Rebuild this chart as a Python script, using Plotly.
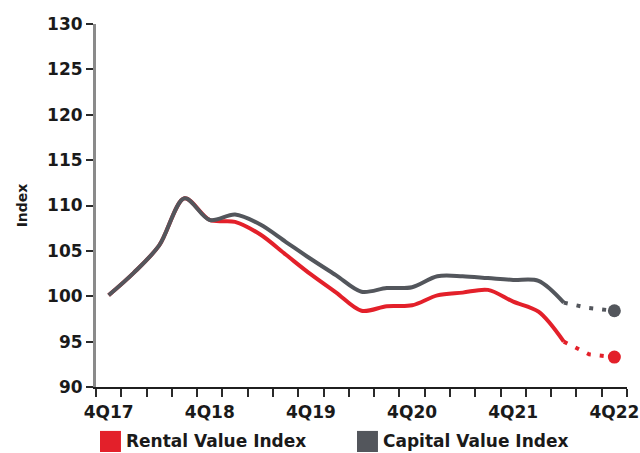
import plotly.graph_objects as go

# Quarterly categories, 4Q17 .. 4Q22
quarters = ["4Q17", "1Q18", "2Q18", "3Q18", "4Q18", "1Q19", "2Q19", "3Q19", "4Q19",
            "1Q20", "2Q20", "3Q20", "4Q20", "1Q21", "2Q21", "3Q21", "4Q21",
            "1Q22", "2Q22", "3Q22", "4Q22"]
tick_labels = ["4Q17", "4Q18", "4Q19", "4Q20", "4Q21", "4Q22"]

# Actual index values (4Q17 .. 2Q22)
rental_actual = [100.1, 102.6, 105.6, 110.8, 108.4, 108.2, 106.8, 104.6, 102.4,
                 100.4, 98.4, 98.9, 99.0, 100.1, 100.4, 100.7, 99.4, 98.3, 95.0]
capital_actual = [100.1, 102.6, 105.6, 110.8, 108.4, 109.0, 107.9, 106.0, 104.1,
                  102.3, 100.5, 100.9, 101.0, 102.2, 102.2, 102.0, 101.8, 101.7, 99.3]

# Forecast values (2Q22 .. 4Q22)
rental_forecast = [95.0, 93.6, 93.3]
capital_forecast = [99.3, 98.7, 98.4]

RED = "#E3202A"
GREY = "#53565C"
FONT = "DejaVu Sans"
TEXT = "#1a1a1a"

n_act = len(rental_actual)
x_act = list(range(n_act))
x_fc = list(range(n_act - 1, n_act - 1 + len(rental_forecast)))
x_end = [x_fc[-1]]

fig = go.Figure()

for actual, forecast, color in [(rental_actual, rental_forecast, RED),
                                (capital_actual, capital_forecast, GREY)]:
    fig.add_trace(go.Scatter(
        x=x_act, y=actual, mode="lines",
        line=dict(color=color, width=4, shape="spline", smoothing=0.9),
        showlegend=False, hoverinfo="skip"))
    fig.add_trace(go.Scatter(
        x=x_fc, y=forecast, mode="lines",
        line=dict(color=color, width=4, dash="4px,9px"),
        showlegend=False, hoverinfo="skip"))
    fig.add_trace(go.Scatter(
        x=x_end, y=[forecast[-1]], mode="markers",
        marker=dict(color=color, size=13),
        showlegend=False, hoverinfo="skip"))

tick_pos = [quarters.index(t) for t in tick_labels]

fig.update_xaxes(
    range=[-0.5, len(quarters) - 0.5],
    automargin=False,
    tickmode="array", tickvals=tick_pos, ticktext=tick_labels,
    ticks="outside", ticklen=9, tickcolor="rgba(0,0,0,0)",
    minor=dict(tickmode="array",
               tickvals=[i - 0.5 for i in range(len(quarters) + 1)],
               ticks="outside", ticklen=8, tickwidth=2, tickcolor="#2a2a2a"),
    showline=True, linecolor="#1f1f1f", linewidth=2,
    showgrid=False, zeroline=False,
    tickfont=dict(family=FONT, size=17, color=TEXT, weight="bold"),
)
fig.update_yaxes(
    range=[90, 130], tickmode="linear", tick0=90, dtick=5,
    automargin=False,
    ticks="outside", ticklen=7, tickwidth=2, tickcolor="#2a2a2a",
    showline=True, linecolor="#8a8a8a", linewidth=3,
    showgrid=False, zeroline=False,
    tickfont=dict(family=FONT, size=17, color=TEXT, weight="bold"),
    title=dict(text="Index", standoff=17,
               font=dict(family=FONT, size=14, color=TEXT, weight="bold")),
)

# Legend drawn as coloured squares with labels below the axis
legend_items = [("Rental Value Index", RED, 0.0075), ("Capital Value Index", GREY, 0.4915)]
for label, color, x0 in legend_items:
    fig.add_shape(type="rect", xref="paper", yref="paper",
                  x0=x0, x1=x0 + 0.0395, y0=-0.179, y1=-0.121,
                  fillcolor=color, line=dict(width=0))
    fig.add_annotation(xref="paper", yref="paper", x=x0 + 0.045, y=-0.150,
                       xanchor="left", yanchor="middle", showarrow=False,
                       text=label,
                       font=dict(family=FONT, size=17, color=TEXT, weight="bold"))

fig.update_layout(
    width=640, height=453,
    margin=dict(l=96, r=13, t=24, b=66),
    plot_bgcolor="white", paper_bgcolor="white",
)

fig.write_html("out.html")
